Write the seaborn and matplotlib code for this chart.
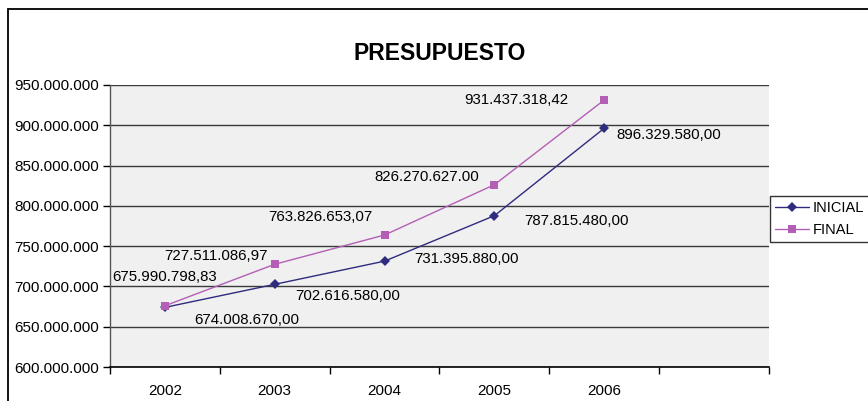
import pandas as pd
import matplotlib
matplotlib.use('Agg')
import matplotlib.pyplot as plt
import seaborn as sns
from matplotlib.patches import Rectangle
from matplotlib.ticker import FuncFormatter, FixedLocator

years = ['2002', '2003', '2004', '2005', '2006']
inicial = [674008670.00, 702616580.00, 731395880.00, 787815480.00, 896329580.00]
final = [675990798.83, 727511086.97, 763826653.07, 826270627.00, 931437318.42]
inicial_labels = ['674.008.670,00', '702.616.580,00', '731.395.880,00', '787.815.480,00', '896.329.580,00']
final_labels = ['675.990.798,83', '727.511.086,97', '763.826.653,07', '826.270.627.00', '931.437.318,42']

# label offsets in pixels from the point (dx, dy)
inicial_off = [(82, -13), (73, -12), (82, 2), (82, -5), (65, -7)]
final_off = [(0, 29), (-59, 8), (-64, 18), (-68, 8), (-88, 0)]

df = pd.DataFrame({
    'year': years * 2,
    'value': inicial + final,
    'series': ['INICIAL'] * len(years) + ['FINAL'] * len(years),
})

sns.set_style('white')
plt.rcParams['font.family'] = ['Liberation Sans', 'DejaVu Sans']
plt.rcParams['text.color'] = 'black'
plt.rcParams['xtick.color'] = 'black'
plt.rcParams['ytick.color'] = 'black'

fig = plt.figure(figsize=(8.68, 4.01), dpi=100)
ax = fig.add_axes([110 / 868, 1 - 367 / 401, 659 / 868, 282 / 401])
ax.set_facecolor('#eff0ef')

palette = {'INICIAL': '#2f2b7e', 'FINAL': '#b35fb5'}
sns.lineplot(data=df, x='year', y='value', hue='series', style='series',
             hue_order=['INICIAL', 'FINAL'], palette=palette,
             markers={'INICIAL': 'D', 'FINAL': 's'}, dashes=False,
             markersize=5.5, markeredgewidth=0, linewidth=1, ax=ax)

ax.set_ylim(600000000, 950000000)
ax.set_xlim(-0.5, 5.5)
ax.set_yticks(range(600000000, 950000001, 50000000))
ax.yaxis.set_major_formatter(FuncFormatter(lambda v, p: f'{v:,.0f}'.replace(',', '.')))
ax.xaxis.set_major_locator(FixedLocator(range(len(years))))
ax.set_xticklabels(years)
ax.xaxis.set_minor_locator(FixedLocator([i - 0.5 for i in range(7)]))
ax.tick_params(axis='x', which='major', length=0, labelsize=11, pad=12, labelcolor='black')
ax.tick_params(axis='x', which='minor', length=5, width=1, direction='out', color='black', bottom=True)
ax.tick_params(axis='y', length=5, width=1, direction='out', color='black', left=True,
               labelsize=11, pad=3, labelcolor='black')
ax.set_xlabel('')
ax.set_ylabel('')

ax.grid(axis='y', color='#3a3a3a', linewidth=1)
ax.set_axisbelow(True)
for s in ['top', 'right']:
    ax.spines[s].set_visible(False)
ax.spines['left'].set_color('#555555')
ax.spines['bottom'].set_color('black')
ax.spines['left'].set_linewidth(1)
ax.spines['bottom'].set_linewidth(1.2)

for i in range(len(years)):
    ax.annotate(inicial_labels[i], (i, inicial[i]), xytext=inicial_off[i], color='black',
                textcoords='offset pixels', ha='center', va='center', fontsize=10.8)
    ax.annotate(final_labels[i], (i, final[i]), xytext=final_off[i], color='black',
                textcoords='offset pixels', ha='center', va='center', fontsize=10.8)

fig.text((110 + 769) / 2 / 868, 1 - 53 / 401, 'PRESUPUESTO', ha='center', va='center',
         fontsize=16.5, fontweight='bold', color='black')

handles, labels = ax.get_legend_handles_labels()
ax.get_legend().remove()
leg = fig.legend(handles, labels, loc='upper left', bbox_to_anchor=(770 / 868, 1 - 196 / 401),
                 bbox_transform=fig.transFigure, fontsize=10.5, frameon=True, fancybox=False,
                 edgecolor='black', borderaxespad=0, borderpad=0.35, handlelength=2.3,
                 handletextpad=0.3, labelspacing=0.55, labelcolor='black')
leg.get_frame().set_linewidth(1)

fig.patches.append(Rectangle((8 / 868, -0.1), 1.0, 1.1 - 9 / 401, transform=fig.transFigure,
                             fill=False, edgecolor='black', linewidth=1.3))

fig.savefig('out.png', dpi=100)
